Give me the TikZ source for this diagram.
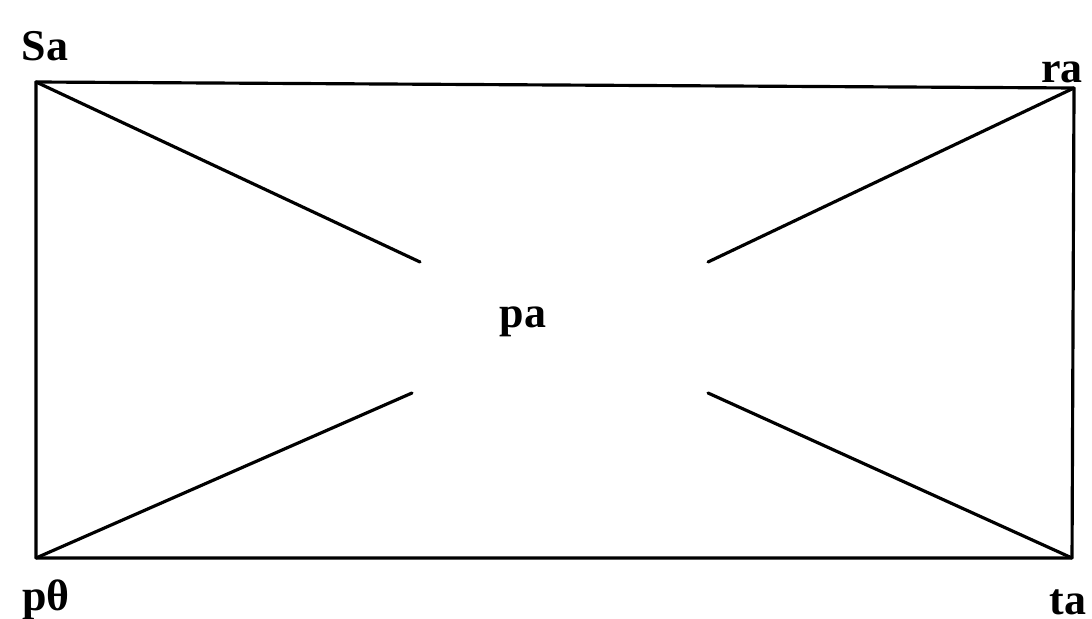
\documentclass[tikz,border=0pt]{standalone}
\usepackage{fontspec}
\setmainfont{Liberation Serif}
\begin{document}
\begin{tikzpicture}[x=0.01cm,y=-0.01cm,
  edge/.style={line width=0.9pt,line cap=round,line join=round},
  lbl/.style={font=\fontsize{12.5}{14}\selectfont\bfseries,inner sep=0pt}]
\useasboundingbox (0,0) rectangle (1092,619);
\coordinate (A) at (36,82);
\coordinate (B) at (1074,88);
\coordinate (C) at (1072,558);
\coordinate (D) at (36,558);
\coordinate (A1) at (420,262);
\coordinate (B1) at (708,262);
\coordinate (C1) at (708,393);
\coordinate (D1) at (412,393);
\draw[edge] (A) -- (B) -- (C) -- (D) -- cycle;
\draw[edge] (A) -- (A1);
\draw[edge] (B) -- (B1);
\draw[edge] (C) -- (C1);
\draw[edge] (D) -- (D1);
\node[lbl] (sa) at (45,46) {Sa};
\node[lbl] (ra) at (1062,72) {ra};
\node[lbl] (pe) at (46,600) {pθ};
\node[lbl] (ta) at (1068,602) {ta};
\node[lbl] (pa) at (523,322) {pa};
\end{tikzpicture}
\end{document}
